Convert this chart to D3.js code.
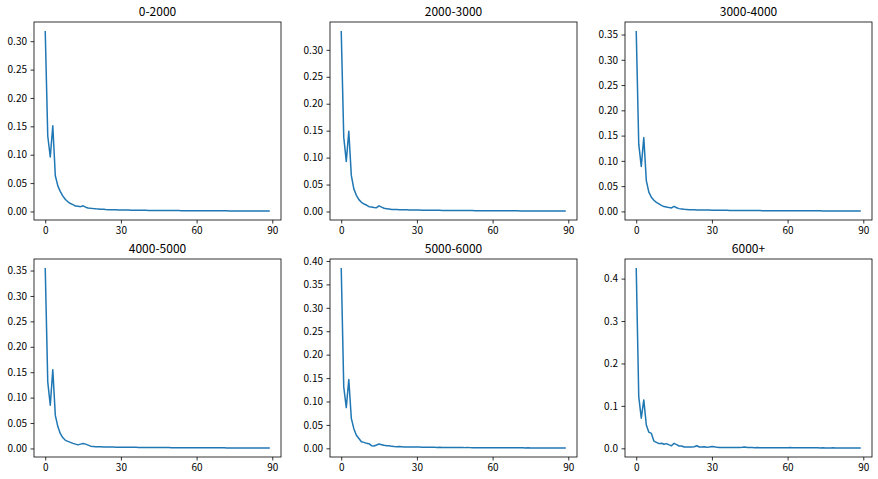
<!DOCTYPE html>
<html lang="zh">
<head>
<meta charset="utf-8">
<style type="text/css">
    body { margin: 0; background: #fff; }
    .tick text { font-family: "Noto Sans CJK SC", "DejaVu Sans", sans-serif; font-size: 10px; fill: #000; }
    .tick line { stroke: #000; stroke-width: 0.8px; }
    .title { font-family: "Noto Sans CJK SC", "DejaVu Sans", sans-serif; font-size: 12px; fill: #000; }
    .frame { fill: none; stroke: #000; stroke-width: 0.8px; }
    .line { fill: none; stroke: #1f77b4; stroke-width: 1.5px; stroke-linejoin: round; }
</style>
</head>
<body>
<svg width="878" height="479"></svg>
<script src="https://d3js.org/d3.v7.min.js"></script>
<script type="text/javascript">
    var titles = ["0-2000", "2000-3000", "3000-4000", "4000-5000", "5000-6000", "6000+"];

    var xTicks = [0, 30, 60, 90];

    var s0 = [0.318,0.133,0.096,0.151,0.063,0.045,0.035,0.027,0.021,0.017,
        0.014,0.012,0.0095,0.009,0.0085,0.0100,0.0075,0.0062,0.0055,0.0050,
        0.0046,0.0043,0.0040,0.0037,0.0034,0.0032,0.0030,0.0029,0.0028,0.0027,
        0.0026,0.0025,0.0024,0.0024,0.0023,0.0022,0.0022,0.0021,0.0021,0.0020,
        0.0020,0.0019,0.0019,0.0018,0.0018,0.0017,0.0017,0.0017,0.0016,0.0016,
        0.0016,0.0015,0.0015,0.0015,0.0014,0.0014,0.0014,0.0014,0.0013,0.0013,
        0.0013,0.0013,0.0012,0.0012,0.0012,0.0012,0.0012,0.0011,0.0011,0.0011,
        0.0011,0.0011,0.0011,0.0010,0.0010,0.0010,0.0010,0.0010,0.0010,0.0010,
        0.0009,0.0009,0.0009,0.0009,0.0009,0.0009,0.0008,0.0008,0.0008,0.0008];

    var s1 = [0.335,0.138,0.093,0.149,0.067,0.042,0.030,0.022,0.017,0.014,
        0.012,0.009,0.0085,0.0075,0.007,0.0105,0.008,0.006,0.0052,0.0045,
        0.0038,0.0036,0.0035,0.0034,0.0032,0.0031,0.0030,0.0029,0.0028,0.0028,
        0.0027,0.0026,0.0025,0.0024,0.0024,0.0023,0.0022,0.0022,0.0021,0.0021,
        0.0020,0.0020,0.0019,0.0019,0.0018,0.0018,0.0018,0.0017,0.0017,0.0017,
        0.0016,0.0016,0.0016,0.0015,0.0015,0.0015,0.0015,0.0014,0.0014,0.0014,
        0.0014,0.0013,0.0013,0.0013,0.0013,0.0013,0.0012,0.0012,0.0012,0.0012,
        0.0012,0.0011,0.0011,0.0011,0.0011,0.0011,0.0011,0.0010,0.0010,0.0010,
        0.0010,0.0010,0.0010,0.0010,0.0009,0.0009,0.0009,0.0009,0.0009,0.0009];

    var s2 = [0.357,0.133,0.089,0.146,0.061,0.038,0.028,0.022,0.018,0.015,
        0.012,0.0095,0.0085,0.0075,0.0068,0.0098,0.0072,0.0055,0.0048,0.0042,
        0.0038,0.0035,0.0033,0.0031,0.0030,0.0029,0.0028,0.0027,0.0026,0.0026,
        0.0025,0.0024,0.0023,0.0023,0.0022,0.0021,0.0021,0.0020,0.0020,0.0019,
        0.0019,0.0018,0.0018,0.0018,0.0017,0.0017,0.0017,0.0016,0.0016,0.0016,
        0.0015,0.0015,0.0015,0.0015,0.0014,0.0014,0.0014,0.0014,0.0013,0.0013,
        0.0013,0.0013,0.0013,0.0012,0.0012,0.0012,0.0012,0.0012,0.0011,0.0011,
        0.0011,0.0011,0.0011,0.0011,0.0010,0.0010,0.0010,0.0010,0.0010,0.0010,
        0.0010,0.0009,0.0009,0.0009,0.0009,0.0009,0.0009,0.0009,0.0008,0.0008];

    var s3 = [0.355,0.131,0.085,0.155,0.065,0.043,0.029,0.021,0.016,0.014,
        0.012,0.010,0.0085,0.007,0.0085,0.0098,0.0085,0.0065,0.0045,0.0040,
        0.0036,0.0034,0.0032,0.0031,0.0030,0.0029,0.0028,0.0027,0.0026,0.0026,
        0.0025,0.0024,0.0024,0.0023,0.0023,0.0022,0.0022,0.0021,0.0021,0.0020,
        0.0020,0.0019,0.0019,0.0019,0.0018,0.0018,0.0018,0.0017,0.0017,0.0017,
        0.0016,0.0016,0.0016,0.0016,0.0015,0.0015,0.0015,0.0015,0.0014,0.0014,
        0.0014,0.0014,0.0013,0.0013,0.0013,0.0013,0.0013,0.0012,0.0012,0.0012,
        0.0012,0.0012,0.0011,0.0011,0.0011,0.0011,0.0011,0.0011,0.0010,0.0010,
        0.0010,0.0010,0.0010,0.0010,0.0010,0.0009,0.0009,0.0009,0.0009,0.0009];

    var s4 = [0.385,0.131,0.087,0.147,0.064,0.042,0.028,0.021,0.014,0.0127,
        0.0106,0.0099,0.0057,0.005,0.007,0.0092,0.0078,0.0064,0.0057,0.0057,
        0.0042,0.0038,0.0036,0.0037,0.0033,0.0030,0.0031,0.0028,0.0027,0.0029,
        0.0028,0.0026,0.0024,0.0025,0.0022,0.0023,0.0021,0.0022,0.0020,0.0021,
        0.0019,0.0018,0.0020,0.0018,0.0017,0.0018,0.0016,0.0017,0.0016,0.0015,
        0.0016,0.0015,0.0014,0.0015,0.0014,0.0013,0.0014,0.0013,0.0013,0.0012,
        0.0013,0.0012,0.0012,0.0011,0.0012,0.0011,0.0011,0.0011,0.0010,0.0011,
        0.0010,0.0010,0.0010,0.0009,0.0010,0.0009,0.0009,0.0009,0.0009,0.0008,
        0.0009,0.0008,0.0008,0.0008,0.0008,0.0008,0.0007,0.0008,0.0007,0.0007];

    var s5 = [0.425,0.122,0.071,0.114,0.055,0.038,0.035,0.017,0.014,0.011,
        0.012,0.0094,0.011,0.008,0.006,0.0118,0.0086,0.0055,0.0055,0.003,
        0.0032,0.0028,0.0030,0.0038,0.0060,0.0030,0.0028,0.0036,0.0025,0.0030,
        0.0042,0.0035,0.0022,0.0020,0.0021,0.0019,0.0020,0.0018,0.0019,0.0017,
        0.0020,0.0018,0.0022,0.0032,0.0018,0.0016,0.0017,0.0015,0.0016,0.0015,
        0.0015,0.0014,0.0015,0.0014,0.0013,0.0014,0.0013,0.0013,0.0012,0.0013,
        0.0012,0.0016,0.0012,0.0011,0.0012,0.0011,0.0011,0.0010,0.0011,0.0010,
        0.0012,0.0010,0.0010,0.0009,0.0010,0.0009,0.0009,0.0009,0.0010,0.0008,
        0.0009,0.0008,0.0008,0.0009,0.0008,0.0008,0.0008,0.0007,0.0008,0.0008];

    var series = [s0, s1, s2, s3, s4, s5];

    var yTicks = [
        [0, 0.05, 0.10, 0.15, 0.20, 0.25, 0.30],
        [0, 0.05, 0.10, 0.15, 0.20, 0.25, 0.30],
        [0, 0.05, 0.10, 0.15, 0.20, 0.25, 0.30, 0.35],
        [0, 0.05, 0.10, 0.15, 0.20, 0.25, 0.30, 0.35],
        [0, 0.05, 0.10, 0.15, 0.20, 0.25, 0.30, 0.35, 0.40],
        [0, 0.1, 0.2, 0.3, 0.4]
    ];
    var yFormats = [".2f", ".2f", ".2f", ".2f", ".2f", ".1f"];

    var svg = d3.select("svg");
    var colLeft = [34, 330, 625],
        rowTop = [22, 259],
        w = 247,
        h = 198;

    series.forEach(function (data, i) {
        var left = colLeft[i % 3], top = rowTop[Math.floor(i / 3)];
        var g = svg.append("g").attr("transform", "translate(" + left + "," + top + ")");

        var n = data.length - 1;
        var x = d3.scaleLinear().domain([-0.05 * n, n * 1.05]).range([0, w]);
        var ext = d3.extent(data), r = ext[1] - ext[0];
        var y = d3.scaleLinear().domain([ext[0] - 0.05 * r, ext[1] + 0.05 * r]).range([h, 0]);

        var line = d3.line()
            .x(function (d, j) { return x(j); })
            .y(function (d) { return y(d); });

        g.append("path")
            .datum(data)
            .attr("class", "line")
            .attr("d", line);

        g.append("g")
            .attr("transform", "translate(0," + h + ")")
            .call(d3.axisBottom(x).tickValues(xTicks).tickSize(3.5).tickPadding(3.5))
            .call(function (a) { a.select(".domain").remove(); });

        g.append("g")
            .call(d3.axisLeft(y).tickValues(yTicks[i]).tickSize(3.5).tickPadding(3.5)
                .tickFormat(d3.format(yFormats[i])))
            .call(function (a) { a.select(".domain").remove(); });

        g.append("rect")
            .attr("class", "frame")
            .attr("width", w)
            .attr("height", h);

        g.append("text")
            .attr("class", "title")
            .attr("x", w / 2)
            .attr("y", -6)
            .attr("text-anchor", "middle")
            .text(titles[i]);
    });
</script>
</body>
</html>
